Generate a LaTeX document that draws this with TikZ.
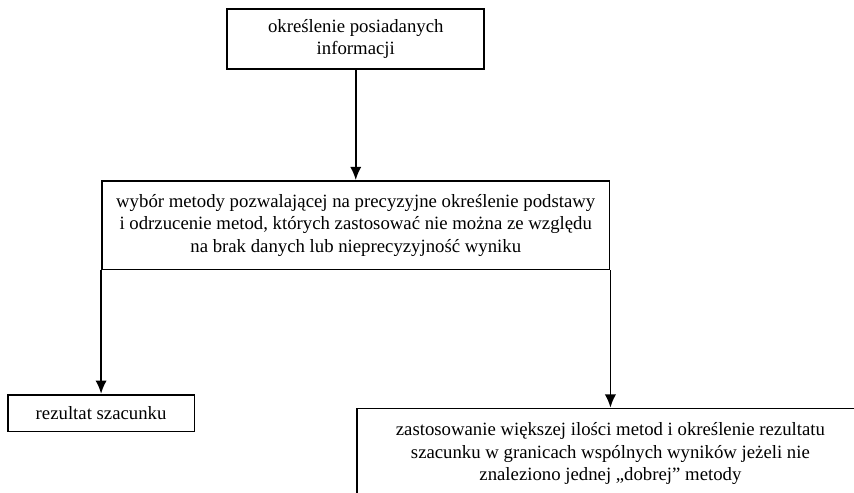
\documentclass[tikz,border=0pt]{standalone}
\usepackage{fontspec}
\setmainfont{Liberation Serif}
\usepackage{tikz}
\usetikzlibrary{calc}
\usetikzlibrary{positioning}
\usetikzlibrary{shapes,arrows.meta}

\begin{document}
\begin{tikzpicture} [>={Latex[length=7pt,width=6pt]}, node distance = 2cm]
            % Set primary nodes
            \tikzset{
                infoNode/.style={
                        draw,
                        line width=1pt,
                        rectangle,
                        align=center,
                        minimum height=1.11cm,
                        minimum width=4.81cm
                    }
            }
            \tikzset{
                methodNode/.style={
                        draw,
                        line width=1pt,
                        rectangle,
                        align=center,
                        minimum height=1.66cm,
                        minimum width=9.51cm
                    }
            }
            \tikzset{
                resultNode/.style={
                        draw,
                        line width=1pt,
                        rectangle,
                        minimum height=0.69cm,
                        minimum width=3.5cm
                    }
            }
            % Configure arrows
            \tikzstyle{arrow} = [line width=0.9pt, ->]
            % Page frame
            \useasboundingbox (-6.667,0.731) rectangle (9.337,-8.508);
            \clip (-6.667,0.731) rectangle (9.337,-8.508);
            % Placing nodes
            \node[infoNode](informacje){określenie posiadanych\\informacji};
            \node[methodNode, below = 2.07cm of informacje](wyborMetody){wybór metody pozwalającej na precyzyjne określenie podstawy\\i odrzucenie metod, których zastosować nie można ze względu\\na brak danych lub nieprecyzyjność wyniku};
            \node[resultNode, below = 2.31cm of wyborMetody.south west](rezultat){rezultat szacunku};
            \node[methodNode, below = 2.57cm of wyborMetody.south east, minimum height = 1.7cm](wieleMetod){zastosowanie większej ilości metod i określenie rezultatu\\szacunku w granicach wspólnych wyników jeżeli nie\\znaleziono jednej „dobrej” metody};
            % Draw arrows
            \draw[arrow](informacje.south) -- (wyborMetody.north);
            \draw[arrow](wyborMetody.south west) -- (rezultat.north);
            \draw[arrow](wyborMetody.south east) -- (wieleMetod.north);
        \end{tikzpicture}
\end{document}
